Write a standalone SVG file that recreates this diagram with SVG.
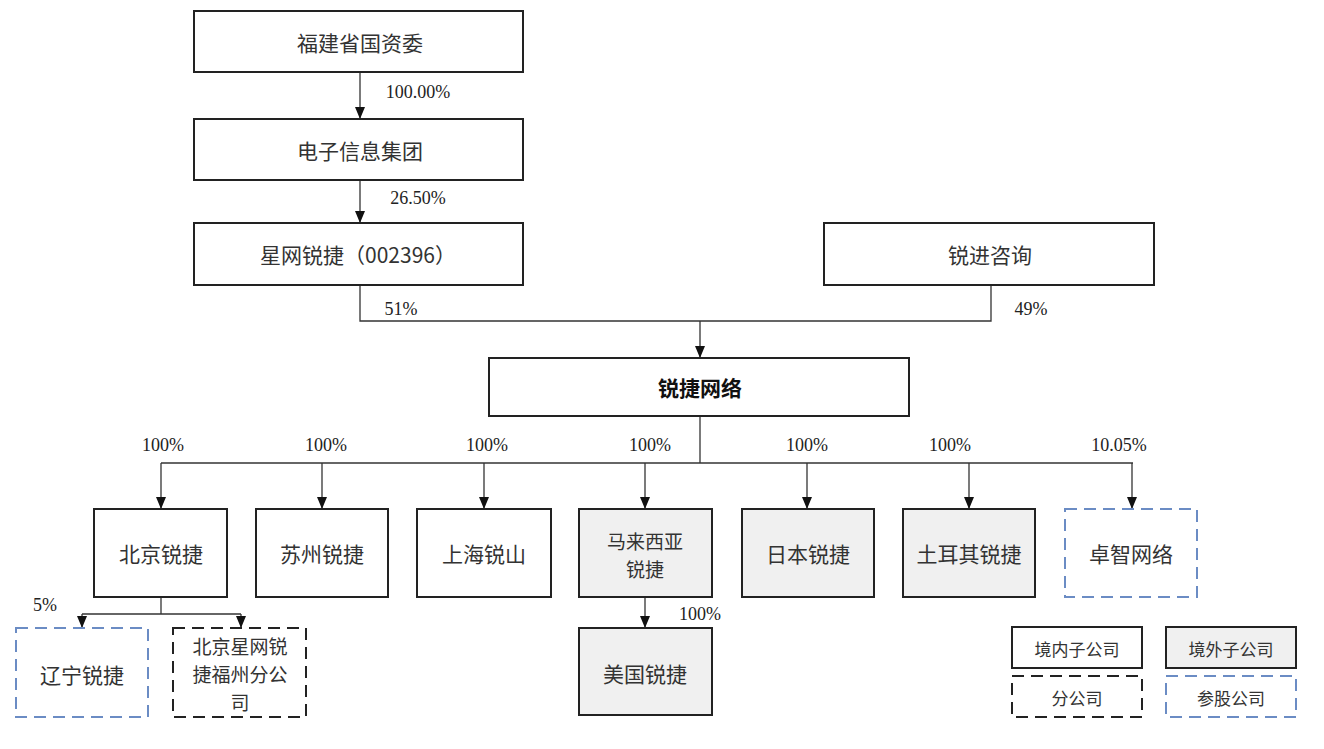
<svg xmlns="http://www.w3.org/2000/svg" width="1324" height="749" viewBox="0 0 1324 749">
<defs>
<marker id="ah" markerWidth="12" markerHeight="12" refX="12" refY="6" orient="auto" markerUnits="userSpaceOnUse" viewBox="0 0 12 12">
<path d="M0,1 L12,6 L0,11 Z" fill="#111"/>
</marker>
<style>
.box{fill:#fff;stroke:#222;stroke-width:2}
.gray{fill:#f0f0f0;stroke:#222;stroke-width:2}
.dash{fill:#fff;stroke:#222;stroke-width:2;stroke-dasharray:12 7}
.bdash{fill:#fff;stroke:#6b8cc4;stroke-width:2;stroke-dasharray:12 7}
.t{font-family:"Noto Sans CJK SC","Noto Sans",sans-serif;font-size:21px;fill:#333;text-anchor:middle;dominant-baseline:central}
.b{font-weight:bold;font-size:21px;fill:#111}
.lg{font-size:17px}
.m{font-size:19px}
.p{font-family:"Liberation Serif",serif;font-size:18px;fill:#222;text-anchor:middle}
.c{fill:none;stroke:#333;stroke-width:1.3}
</style>
</defs>

<g id="connectors">
<line class="c" x1="360" y1="72" x2="360" y2="119" marker-end="url(#ah)"/>
<line class="c" x1="360" y1="180" x2="360" y2="223" marker-end="url(#ah)"/>
<polyline class="c" points="360,285 360,321 991,321 991,285"/>
<line class="c" x1="700" y1="321" x2="700" y2="358" marker-end="url(#ah)"/>
<line class="c" x1="700" y1="416" x2="700" y2="463"/>
<line class="c" x1="161" y1="463" x2="1133" y2="463"/>
<line class="c" x1="161" y1="463" x2="161" y2="509" marker-end="url(#ah)"/>
<line class="c" x1="322" y1="463" x2="322" y2="509" marker-end="url(#ah)"/>
<line class="c" x1="484" y1="463" x2="484" y2="509" marker-end="url(#ah)"/>
<line class="c" x1="645" y1="463" x2="645" y2="509" marker-end="url(#ah)"/>
<line class="c" x1="807" y1="463" x2="807" y2="509" marker-end="url(#ah)"/>
<line class="c" x1="969" y1="463" x2="969" y2="509" marker-end="url(#ah)"/>
<line class="c" x1="1132" y1="463" x2="1132" y2="509" marker-end="url(#ah)"/>
<line class="c" x1="645" y1="597" x2="645" y2="628" marker-end="url(#ah)"/>
<line class="c" x1="161" y1="597" x2="161" y2="614"/>
<line class="c" x1="82" y1="614" x2="241" y2="614"/>
<line class="c" x1="82" y1="614" x2="82" y2="628" marker-end="url(#ah)"/>
<line class="c" x1="241" y1="614" x2="241" y2="628" marker-end="url(#ah)"/>
<text class="p" x="418" y="98">100.00%</text>
<text class="p" x="418" y="204">26.50%</text>
<text class="p" x="401" y="315">51%</text>
<text class="p" x="1031" y="315">49%</text>
<text class="p" x="163" y="451">100%</text>
<text class="p" x="326" y="451">100%</text>
<text class="p" x="487" y="451">100%</text>
<text class="p" x="650" y="451">100%</text>
<text class="p" x="807" y="451">100%</text>
<text class="p" x="950" y="451">100%</text>
<text class="p" x="1119" y="451">10.05%</text>
<text class="p" x="700" y="620">100%</text>
<text class="p" x="45" y="611">5%</text>
</g>

<g id="n1"><rect class="box" x="194" y="11" width="329" height="61"/><text class="t" x="360" y="42">福建省国资委</text></g>
<g id="n2"><rect class="box" x="194" y="119" width="329" height="61"/><text class="t" x="360" y="150">电子信息集团</text></g>
<g id="n3"><rect class="box" x="194" y="223" width="329" height="62"/><text class="t" x="358" y="254">星网锐捷（002396）</text></g>
<g id="n4"><rect class="box" x="824" y="223" width="330" height="62"/><text class="t" x="990" y="254">锐进咨询</text></g>
<g id="n5"><rect class="box" x="489" y="358" width="420" height="58"/><text class="t b" x="700" y="387">锐捷网络</text></g>

<g id="n6"><rect class="box" x="94" y="509" width="133" height="88"/><text class="t" x="161" y="553">北京锐捷</text></g>
<g id="n7"><rect class="box" x="256" y="509" width="132" height="88"/><text class="t" x="322" y="553">苏州锐捷</text></g>
<g id="n8"><rect class="box" x="417" y="509" width="134" height="88"/><text class="t" x="484" y="553">上海锐山</text></g>
<g id="n9"><rect class="gray" x="579" y="509" width="133" height="88"/><text class="t m" x="645" y="540">马来西亚<tspan x="645" dy="28">锐捷</tspan></text></g>
<g id="n10"><rect class="gray" x="742" y="509" width="132" height="88"/><text class="t" x="808" y="553">日本锐捷</text></g>
<g id="n11"><rect class="gray" x="903" y="509" width="132" height="88"/><text class="t" x="969" y="553">土耳其锐捷</text></g>
<g id="n12"><rect class="bdash" x="1065" y="509" width="132" height="88"/><text class="t" x="1131" y="553">卓智网络</text></g>

<g id="n13"><rect class="gray" x="579" y="628" width="133" height="87"/><text class="t" x="645" y="673">美国锐捷</text></g>
<g id="n14"><rect class="bdash" x="16" y="628" width="132" height="89"/><text class="t" x="82" y="674">辽宁锐捷</text></g>
<g id="n15"><rect class="dash" x="173" y="628" width="133" height="89"/><text class="t m" x="240" y="645">北京星网锐<tspan x="240" dy="28">捷福州分公</tspan><tspan x="240" dy="28">司</tspan></text></g>

<g id="legend">
<rect class="box" x="1012" y="627" width="130" height="41"/><text class="t lg" x="1077" y="648">境内子公司</text>
<rect class="gray" x="1166" y="627" width="130" height="41"/><text class="t lg" x="1231" y="648">境外子公司</text>
<rect class="dash" x="1012" y="676" width="130" height="41"/><text class="t lg" x="1077" y="697">分公司</text>
<rect class="bdash" x="1166" y="676" width="130" height="41"/><text class="t lg" x="1231" y="697">参股公司</text>
</g>
</svg>
